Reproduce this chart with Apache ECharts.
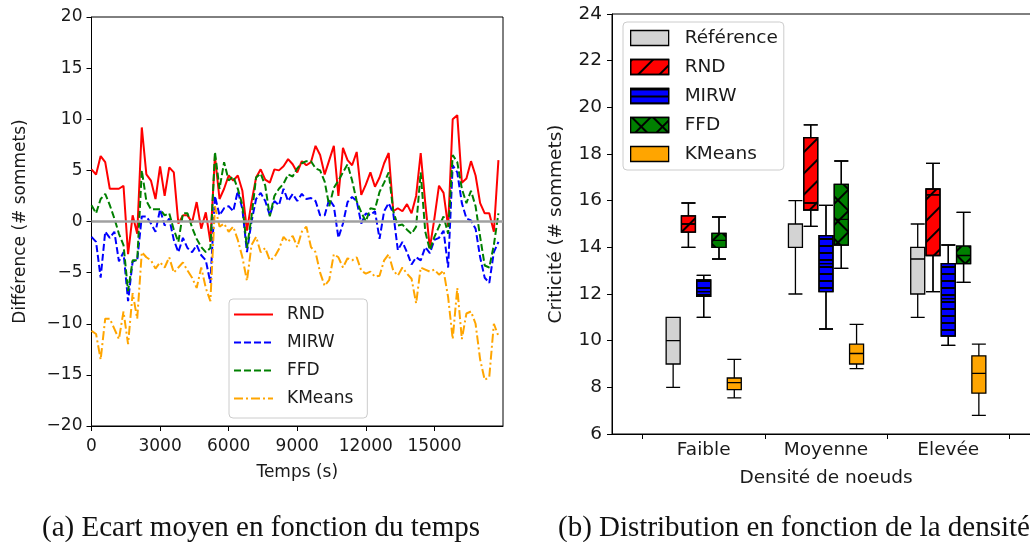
<!DOCTYPE html>
<html>
<head>
<meta charset="utf-8">
<script src="https://cdn.jsdelivr.net/npm/echarts@6/dist/echarts.min.js"></script>
<style>
  html, body { margin: 0; padding: 0; background: #fff; }
  #chart { width: 1030px; height: 542px; }
</style>
</head>
<body>
<div id="chart"></div>
<script>
// --- (a) écart moyen, un point toutes les 200 s ---
const TIME_STEP = 200
const rnd = [
  5.1, 4.6, 6.4, 5.8, 3.2, 3.2, 3.2, 3.5, -3.2, 0.6,
  -1.2, 9.2, 4.6, 4.0, 2.2, 5.4, 2.5, 5.3, 4.8, -0.2,
  0.6, 0.6, -0.1, 1.9, -0.7, 0.9, -2.0, 6.4, 2.2, 3.2,
  4.5, 4.0, 4.5, 3.0, -0.9, 1.9, 4.3, 5.1, 4.1, 3.8,
  5.1, 5.0, 5.4, 6.1, 5.6, 4.8, 5.9, 5.5, 5.8, 7.4,
  6.5, 4.6, 6.0, 7.4, 2.5, 7.2, 6.0, 5.5, 6.8, 2.6,
  3.6, 4.8, 3.4, 4.3, 5.7, 6.7, 1.0, 1.3, 1.0, 1.7,
  0.8, 2.5, 6.7, 1.8, -2.6, 0.3, 3.5, 2.8, -0.5, 10.0,
  10.4, 3.8, 4.2, 5.9, 4.5, 1.8, 0.8, 0.8, -1.0, 6.0
]
const mirw = [
  -1.5, -2.0, -5.5, -1.0, -1.6, -1.0, -3.9, -3.0, -7.8, -3.9,
  -3.8, 0.5, 0.5, -0.2, -1.0, 1.2, -0.4, 0.3, -1.8, -3.0,
  -1.6, -2.6, -3.0, -2.3, -3.3, -3.8, -6.0, 2.5, 0.6, 1.3,
  1.5, 1.0, 3.0, 1.2, -3.0, 0.0, 2.2, 2.8, 2.0, 0.6,
  2.0, 1.6, 3.2, 2.0, 2.7, 2.0, 2.7, 2.2, 2.3, 2.0,
  0.6, 0.6, 2.2, 1.5, -1.6, -0.2, 1.9, 2.4, 2.0, -0.2,
  0.8, 0.6, 1.0, -1.7, 1.0, 1.8, 0.8, -2.8, -2.0, -3.0,
  -4.2, -3.5, -3.8, -2.5, -3.1, -1.8, -1.6, -0.9, -4.5, 5.5,
  4.8, 1.8, 0.3, 0.1, -0.7, -3.5, -5.5, -6.0, -3.0, -2.0
]
const ffd = [
  1.6, 0.8, 2.2, 2.7, 1.6, 0.3, -1.2, -2.3, -6.8, -3.8,
  -3.8, 5.0, 2.0, 1.2, 1.2, 1.2, 0.6, 0.8, -0.8, -2.0,
  0.8, 0.8, -0.6, -1.7, -2.5, -3.0, -2.6, 6.8, 3.2, 5.8,
  4.0, 4.4, 3.2, 1.6, -2.6, 0.5, 4.3, 4.7, 3.5, 0.5,
  2.5, 3.2, 3.7, 4.6, 4.4, 5.2, 5.7, 5.9, 5.9, 5.2,
  5.0, 3.9, 1.5, 3.3, 4.0, 4.8, 5.6, 4.0, 2.0, 0.9,
  0.0, 1.3, 1.2, 2.9, 3.8, 4.8, 1.0, -0.4, -0.3, -0.8,
  -1.2, -0.5, 4.8, -1.0, -2.8, -1.5, -0.5, 0.5, -1.2, 6.5,
  5.8, 3.2, 1.8, 3.0, 1.5, -1.5, -4.3, -4.5, -2.3, 0.8
]
const kmeans = [
  -10.7, -11.0, -13.5, -9.5, -9.5, -10.5, -11.5, -8.8, -12.0, -7.0,
  -9.5, -3.0, -3.5, -3.8, -4.6, -4.0, -4.5, -3.5, -5.0, -4.5,
  -4.0, -4.8, -5.5, -6.5, -4.5, -6.5, -7.8, 1.5, -0.5, -0.2,
  -1.0, -0.5, -1.8, -3.5, -5.8, -2.3, -1.5, -3.0, -2.6, -3.8,
  -3.5, -2.7, -1.5, -2.0, -1.4, -2.5, -1.0, -0.5, -2.5, -3.0,
  -5.0, -6.3, -5.7, -3.2, -3.5, -4.5, -3.6, -3.8, -3.5, -4.8,
  -5.1, -4.9, -5.4, -5.3, -3.8, -3.2, -4.8, -5.3, -4.5, -5.1,
  -5.6, -8.0, -4.5, -4.7, -4.9, -4.7, -5.2, -4.8, -7.4, -11.5,
  -6.5, -11.5, -9.0, -8.8, -10.0, -13.5, -15.5, -15.2, -10.0, -11.2
]
const lineNames = ['RND', 'MIRW', 'FFD', 'KMeans']

// --- (b) boxplots : [min, Q1, médiane, Q3, max] par densité ---
const densites = ['Faible', 'Moyenne', 'Elevée']
const boxNames = ['Référence', 'RND', 'MIRW', 'FFD', 'KMeans']
const boxRef = [[8, 9, 10, 11, 11], [12, 14, 14, 15, 16], [11, 12, 13.5, 14, 15]]
const boxRnd = [[14.0, 14.65, 15.0, 15.35, 15.9], [14.9, 15.6, 15.9, 18.7, 19.25], [12.1, 13.65, 16.25, 16.5, 17.6]]
const boxMirw = [[11.0, 11.9, 12.1, 12.6, 12.8], [10.5, 12.1, 13.3, 14.5, 15.8], [9.8, 10.2, 11.8, 13.3, 14.1]]
const boxFfd = [[13.5, 14.0, 14.3, 14.6, 15.3], [13.1, 14.1, 15.2, 16.7, 17.7], [12.5, 13.3, 13.65, 14.05, 15.5]]
const boxKmeans = [[7.55, 7.9, 8.2, 8.4, 9.2], [8.8, 9.0, 9.45, 9.85, 10.7], [6.8, 7.75, 8.6, 9.35, 9.85]]

const font = 'DejaVu Sans'
const ink = '#1a1a1a'
const minus = v => (v < 0 ? '\u2212' + (-v) : String(v))

const lineStyles = [
  { color: '#ff0000', type: 'solid' },
  { color: '#0000ff', type: [7, 3] },
  { color: '#008000', type: [7, 3] },
  { color: '#ffa500', type: [9, 3, 2, 3] }
]
const lineValues = [rnd, mirw, ffd, kmeans]

const boxStyles = [
  { fill: '#d3d3d3' },
  { fill: '#ff0000', decal: { color: '#000', symbol: 'rect', dashArrayX: [1, 0], dashArrayY: [1.2, 13], rotation: -Math.PI / 4 } },
  { fill: '#0000ff', decal: { color: '#000', symbol: 'rect', dashArrayX: [1, 0], dashArrayY: [1.2, 5] } },
  { fill: '#008000', decal: { color: '#008000', backgroundColor: '#000', symbol: 'rect', dashArrayX: [12.8, 1.2], dashArrayY: [12.8, 1.2], rotation: Math.PI / 4 } },
  { fill: '#ffa500' }
]
const boxValues = [boxRef, boxRnd, boxMirw, boxFfd, boxKmeans]

const axisBase = (size, extra) => Object.assign({
  nameLocation: 'middle',
  nameTextStyle: { color: ink, fontFamily: font, fontSize: size },
  axisLine: { show: true, onZero: false, lineStyle: { color: '#000', width: 1 } },
  axisTick: { show: true, inside: false, length: 5, lineStyle: { color: '#000', width: 1 } },
  splitLine: { show: false }
}, extra)

const labels = size => ({ color: ink, fontFamily: font, fontSize: size })

const lineSeries = lineNames.map((name, i) => ({
  type: 'line',
  name,
  xAxisIndex: 0,
  yAxisIndex: 0,
  symbol: 'none',
  lineStyle: { width: 2, color: lineStyles[i].color, type: lineStyles[i].type },
  itemStyle: { color: lineStyles[i].color },
  data: lineValues[i].map((v, k) => [k * TIME_STEP, v]),
  markLine: i === 0 ? {
    silent: true,
    symbol: 'none',
    label: { show: false },
    lineStyle: { color: '#a0a0a0', width: 2.5, type: 'solid' },
    data: [{ yAxis: 0 }]
  } : undefined
}))

// dodge : chaque méthode décalée de 1/8 autour du centre de la densité
const boxItemStyle = s => {
  const st = { color: boxStyles[s].fill, borderColor: '#000', borderWidth: 1.3 }
  if (boxStyles[s].decal) st.decal = boxStyles[s].decal
  return st
}
const boxSeries = boxNames.map((name, s) => ({
  type: 'boxplot',
  name: 'b_' + name,
  xAxisIndex: 1 + s,
  yAxisIndex: 1,
  boxWidth: [14, 14],
  silent: true,
  itemStyle: boxItemStyle(s),
  data: boxValues[s].map((st, g) => [g + 1 + (s - 2) * 0.125, ...st])
}))

const hiddenX = [0, 1, 2, 3].map(() => ({ gridIndex: 1, type: 'value', min: 0.25, max: 3.75, show: false }))

const captionStyle = { fontFamily: 'Liberation Serif', fontSize: 29, fontWeight: 'normal', color: '#111' }

const chart = echarts.init(document.getElementById('chart'))
chart.setOption({
  animation: false,
  backgroundColor: '#fff',
  title: [
    { text: '(a) Ecart moyen en fonction du temps', left: 37, top: 509, textStyle: captionStyle },
    { text: '(b) Distribution en fonction de la densité', left: 553, top: 509, textStyle: captionStyle }
  ],
  grid: [
    { left: 91.5, top: 17, width: 411.5, height: 409, show: true, borderColor: '#000', borderWidth: 1, outerBoundsMode: 'none' },
    { left: 612, top: 14, width: 428, height: 420, show: true, borderColor: '#000', borderWidth: 1, outerBoundsMode: 'none' }
  ],
  legend: [
    {
      data: lineNames,
      orient: 'vertical',
      left: 229, top: 299,
      itemWidth: 39, itemHeight: 14, itemGap: 11,
      padding: [7, 14, 11, 4],
      backgroundColor: 'rgba(255,255,255,0.8)',
      borderColor: '#cccccc', borderWidth: 1, borderRadius: 4,
      itemStyle: { opacity: 0 },
      textStyle: { color: ink, fontFamily: font, fontSize: 17, padding: [0, 0, 0, 9] },
      selectedMode: false
    },
    {
      data: boxNames.map((n, s) => ({ name: 'b_' + n, itemStyle: boxItemStyle(s) })),
      formatter: n => n.slice(2),
      orient: 'vertical',
      icon: 'rect',
      left: 623, top: 22,
      itemWidth: 38, itemHeight: 15, itemGap: 10,
      padding: [6.5, 6, 6.5, 7],
      backgroundColor: 'rgba(255,255,255,0.8)',
      borderColor: '#cccccc', borderWidth: 1, borderRadius: 4,
      textStyle: { color: ink, fontFamily: font, fontSize: 18.5, padding: [0, 0, 0, 11] },
      selectedMode: false
    }
  ],
  xAxis: [
    axisBase(17, {
      gridIndex: 0, type: 'value', min: 0, max: 18000, interval: 3000,
      name: 'Temps (s)', nameGap: 38,
      axisLabel: Object.assign({ margin: 12, showMaxLabel: false, formatter: v => String(v) }, labels(17))
    }),
    axisBase(18.5, {
      gridIndex: 1, type: 'value', min: 0.25, max: 3.75,
      name: 'Densité de noeuds', nameGap: 35,
      axisTick: { show: true, inside: false, length: 5, customValues: [0.5, 1.5, 2.5, 3.5], lineStyle: { color: '#000' } },
      axisLabel: Object.assign({ margin: 7, customValues: [1, 2, 3], formatter: v => densites[Math.round(v) - 1] }, labels(18.5))
    }),
    ...hiddenX
  ],
  yAxis: [
    axisBase(17, {
      gridIndex: 0, type: 'value', min: -20, max: 20, interval: 5,
      name: 'Différence (# sommets)', nameGap: 62,
      axisLabel: Object.assign({ margin: 9, formatter: minus }, labels(17))
    }),
    axisBase(18.5, {
      gridIndex: 1, type: 'value', min: 6, max: 24, interval: 2,
      name: 'Criticité (# sommets)', nameGap: 46,
      axisLabel: Object.assign({ margin: 10 }, labels(18.5))
    })
  ],
  series: [...lineSeries, ...boxSeries]
})
</script>
</body>
</html>
